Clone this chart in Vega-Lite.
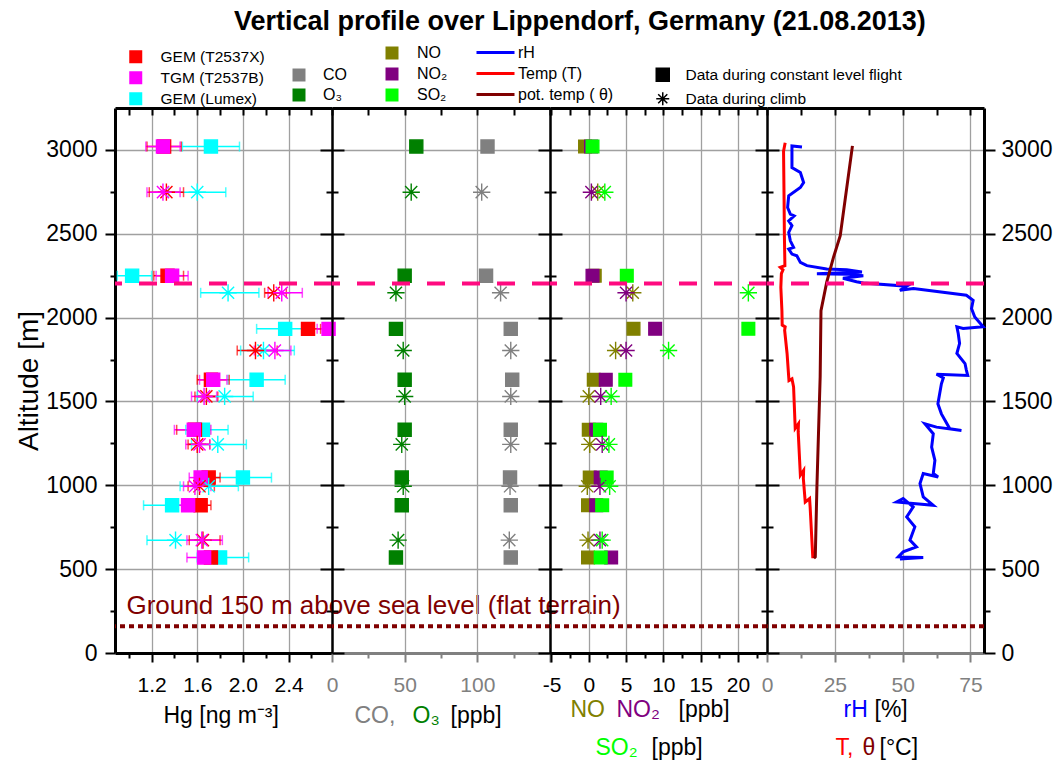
{
"$schema": "https://vega.github.io/schema/vega-lite/v6.json",
"padding": {"left": 15, "top": 8, "right": 5, "bottom": 5},
"title": {"text": "Vertical profile over Lippendorf, Germany (21.08.2013)", "fontSize": 27, "fontWeight": "bold", "font": "Liberation Sans", "color": "black", "anchor": "start", "frame": "group", "dx": 119, "offset": 8},
"spacing": 0,
"bounds": "flush",
"resolve": {"scale": {"x": "independent", "y": "independent", "color": "independent", "fill": "independent", "stroke": "independent", "shape": "independent", "size": "independent"}, "axis": {"x": "independent", "y": "independent"}, "legend": {"color": "independent", "fill": "independent", "stroke": "independent", "shape": "independent", "size": "independent"}},
"datasets": {
"hg": [
{"alt":3020,"phase":"Data during constant level flight","inst":"GEM (Lumex)","v":1.72,"lo":1.47,"hi":1.97},
{"alt":3020,"phase":"Data during constant level flight","inst":"GEM (T2537X)","v":1.31,"lo":1.16,"hi":1.46},
{"alt":3020,"phase":"Data during constant level flight","inst":"TGM (T2537B)","v":1.30,"lo":1.15,"hi":1.45},
{"alt":2748,"phase":"Data during climb","inst":"GEM (Lumex)","v":1.60,"lo":1.35,"hi":1.85},
{"alt":2748,"phase":"Data during climb","inst":"GEM (T2537X)","v":1.33,"lo":1.18,"hi":1.48},
{"alt":2748,"phase":"Data during climb","inst":"TGM (T2537B)","v":1.30,"lo":1.16,"hi":1.45},
{"alt":2250,"phase":"Data during constant level flight","inst":"GEM (Lumex)","v":1.03,"lo":0.90,"hi":1.20},
{"alt":2250,"phase":"Data during constant level flight","inst":"GEM (T2537X)","v":1.34,"lo":1.22,"hi":1.48},
{"alt":2250,"phase":"Data during constant level flight","inst":"TGM (T2537B)","v":1.38,"lo":1.24,"hi":1.52},
{"alt":2148,"phase":"Data during climb","inst":"GEM (Lumex)","v":1.87,"lo":1.63,"hi":2.14},
{"alt":2148,"phase":"Data during climb","inst":"GEM (T2537X)","v":2.27,"lo":2.19,"hi":2.38},
{"alt":2148,"phase":"Data during climb","inst":"TGM (T2537B)","v":2.34,"lo":2.22,"hi":2.52},
{"alt":1933,"phase":"Data during constant level flight","inst":"GEM (Lumex)","v":2.37,"lo":2.12,"hi":2.62},
{"alt":1933,"phase":"Data during constant level flight","inst":"GEM (T2537X)","v":2.57,"lo":2.52,"hi":2.68},
{"alt":1933,"phase":"Data during constant level flight","inst":"TGM (T2537B)","v":2.75,"lo":2.65,"hi":2.78},
{"alt":1804,"phase":"Data during climb","inst":"GEM (Lumex)","v":2.18,"lo":1.98,"hi":2.45},
{"alt":1804,"phase":"Data during climb","inst":"GEM (T2537X)","v":2.11,"lo":1.95,"hi":2.30},
{"alt":1804,"phase":"Data during climb","inst":"TGM (T2537B)","v":2.28,"lo":2.10,"hi":2.42},
{"alt":1629,"phase":"Data during constant level flight","inst":"GEM (Lumex)","v":2.12,"lo":1.87,"hi":2.37},
{"alt":1629,"phase":"Data during constant level flight","inst":"GEM (T2537X)","v":1.72,"lo":1.60,"hi":1.88},
{"alt":1629,"phase":"Data during constant level flight","inst":"TGM (T2537B)","v":1.74,"lo":1.62,"hi":1.86},
{"alt":1530,"phase":"Data during climb","inst":"GEM (Lumex)","v":1.84,"lo":1.60,"hi":2.09},
{"alt":1530,"phase":"Data during climb","inst":"GEM (T2537X)","v":1.68,"lo":1.58,"hi":1.78},
{"alt":1530,"phase":"Data during climb","inst":"TGM (T2537B)","v":1.66,"lo":1.55,"hi":1.77},
{"alt":1331,"phase":"Data during constant level flight","inst":"GEM (Lumex)","v":1.65,"lo":1.50,"hi":1.87},
{"alt":1331,"phase":"Data during constant level flight","inst":"GEM (T2537X)","v":1.58,"lo":1.42,"hi":1.71},
{"alt":1331,"phase":"Data during constant level flight","inst":"TGM (T2537B)","v":1.57,"lo":1.40,"hi":1.72},
{"alt":1244,"phase":"Data during climb","inst":"GEM (Lumex)","v":1.78,"lo":1.55,"hi":2.03},
{"alt":1244,"phase":"Data during climb","inst":"GEM (T2537X)","v":1.60,"lo":1.52,"hi":1.71},
{"alt":1244,"phase":"Data during climb","inst":"TGM (T2537B)","v":1.62,"lo":1.50,"hi":1.71},
{"alt":1046,"phase":"Data during constant level flight","inst":"GEM (Lumex)","v":2.00,"lo":1.75,"hi":2.25},
{"alt":1046,"phase":"Data during constant level flight","inst":"GEM (T2537X)","v":1.70,"lo":1.58,"hi":1.80},
{"alt":1046,"phase":"Data during constant level flight","inst":"TGM (T2537B)","v":1.63,"lo":1.53,"hi":1.75},
{"alt":994,"phase":"Data during climb","inst":"GEM (Lumex)","v":1.70,"lo":1.45,"hi":1.96},
{"alt":994,"phase":"Data during climb","inst":"GEM (T2537X)","v":1.62,"lo":1.52,"hi":1.75},
{"alt":994,"phase":"Data during climb","inst":"TGM (T2537B)","v":1.58,"lo":1.48,"hi":1.72},
{"alt":881,"phase":"Data during constant level flight","inst":"GEM (Lumex)","v":1.38,"lo":1.13,"hi":1.63},
{"alt":881,"phase":"Data during constant level flight","inst":"GEM (T2537X)","v":1.63,"lo":1.55,"hi":1.72},
{"alt":881,"phase":"Data during constant level flight","inst":"TGM (T2537B)","v":1.52,"lo":1.42,"hi":1.62},
{"alt":673,"phase":"Data during climb","inst":"GEM (Lumex)","v":1.41,"lo":1.16,"hi":1.66},
{"alt":673,"phase":"Data during climb","inst":"GEM (T2537X)","v":1.65,"lo":1.53,"hi":1.80},
{"alt":673,"phase":"Data during climb","inst":"TGM (T2537B)","v":1.64,"lo":1.51,"hi":1.82},
{"alt":570,"phase":"Data during constant level flight","inst":"GEM (Lumex)","v":1.80,"lo":1.60,"hi":2.05},
{"alt":570,"phase":"Data during constant level flight","inst":"GEM (T2537X)","v":1.72,"lo":1.62,"hi":1.82},
{"alt":570,"phase":"Data during constant level flight","inst":"TGM (T2537B)","v":1.66,"lo":1.51,"hi":1.80}
],
"gas": [
{"alt":3020,"phase":"Data during constant level flight","gas":"O₃","v":58},
{"alt":3020,"phase":"Data during constant level flight","gas":"CO","v":107},
{"alt":2748,"phase":"Data during climb","gas":"O₃","v":54.5},
{"alt":2748,"phase":"Data during climb","gas":"CO","v":103},
{"alt":2250,"phase":"Data during constant level flight","gas":"O₃","v":50},
{"alt":2250,"phase":"Data during constant level flight","gas":"CO","v":106},
{"alt":2148,"phase":"Data during climb","gas":"O₃","v":44},
{"alt":2148,"phase":"Data during climb","gas":"CO","v":116},
{"alt":1933,"phase":"Data during constant level flight","gas":"O₃","v":44},
{"alt":1933,"phase":"Data during constant level flight","gas":"CO","v":123},
{"alt":1804,"phase":"Data during climb","gas":"O₃","v":49},
{"alt":1804,"phase":"Data during climb","gas":"CO","v":123},
{"alt":1629,"phase":"Data during constant level flight","gas":"O₃","v":50},
{"alt":1629,"phase":"Data during constant level flight","gas":"CO","v":124},
{"alt":1530,"phase":"Data during climb","gas":"O₃","v":50},
{"alt":1530,"phase":"Data during climb","gas":"CO","v":123},
{"alt":1331,"phase":"Data during constant level flight","gas":"O₃","v":50},
{"alt":1331,"phase":"Data during constant level flight","gas":"CO","v":123},
{"alt":1244,"phase":"Data during climb","gas":"O₃","v":48},
{"alt":1244,"phase":"Data during climb","gas":"CO","v":123},
{"alt":1046,"phase":"Data during constant level flight","gas":"O₃","v":48},
{"alt":1046,"phase":"Data during constant level flight","gas":"CO","v":122.5},
{"alt":994,"phase":"Data during climb","gas":"O₃","v":49},
{"alt":994,"phase":"Data during climb","gas":"CO","v":122.5},
{"alt":881,"phase":"Data during constant level flight","gas":"O₃","v":48},
{"alt":881,"phase":"Data during constant level flight","gas":"CO","v":123},
{"alt":673,"phase":"Data during climb","gas":"O₃","v":45.5},
{"alt":673,"phase":"Data during climb","gas":"CO","v":122},
{"alt":570,"phase":"Data during constant level flight","gas":"O₃","v":44},
{"alt":570,"phase":"Data during constant level flight","gas":"CO","v":123}
],
"nox": [
{"alt":3020,"phase":"Data during constant level flight","gas":"NO","v":-0.5},
{"alt":3020,"phase":"Data during constant level flight","gas":"NO₂","v":0.3},
{"alt":3020,"phase":"Data during constant level flight","gas":"SO₂","v":0.5},
{"alt":2748,"phase":"Data during climb","gas":"NO","v":1.2},
{"alt":2748,"phase":"Data during climb","gas":"NO₂","v":0.35},
{"alt":2748,"phase":"Data during climb","gas":"SO₂","v":2.15},
{"alt":2250,"phase":"Data during constant level flight","gas":"NO","v":0.8},
{"alt":2250,"phase":"Data during constant level flight","gas":"NO₂","v":0.5},
{"alt":2250,"phase":"Data during constant level flight","gas":"SO₂","v":5.1},
{"alt":2148,"phase":"Data during climb","gas":"NO","v":5.9},
{"alt":2148,"phase":"Data during climb","gas":"NO₂","v":5.0},
{"alt":2148,"phase":"Data during climb","gas":"SO₂","v":21.4},
{"alt":1933,"phase":"Data during constant level flight","gas":"NO","v":6.0},
{"alt":1933,"phase":"Data during constant level flight","gas":"NO₂","v":8.9},
{"alt":1933,"phase":"Data during constant level flight","gas":"SO₂","v":21.4},
{"alt":1804,"phase":"Data during climb","gas":"NO","v":3.6},
{"alt":1804,"phase":"Data during climb","gas":"NO₂","v":5.0},
{"alt":1804,"phase":"Data during climb","gas":"SO₂","v":10.7},
{"alt":1629,"phase":"Data during constant level flight","gas":"NO","v":0.67},
{"alt":1629,"phase":"Data during constant level flight","gas":"NO₂","v":2.28},
{"alt":1629,"phase":"Data during constant level flight","gas":"SO₂","v":4.9},
{"alt":1530,"phase":"Data during climb","gas":"NO","v":0.0},
{"alt":1530,"phase":"Data during climb","gas":"NO₂","v":1.6},
{"alt":1530,"phase":"Data during climb","gas":"SO₂","v":3.0},
{"alt":1331,"phase":"Data during constant level flight","gas":"NO","v":0.0},
{"alt":1331,"phase":"Data during constant level flight","gas":"NO₂","v":1.0},
{"alt":1331,"phase":"Data during constant level flight","gas":"SO₂","v":1.5},
{"alt":1244,"phase":"Data during climb","gas":"NO","v":0.13},
{"alt":1244,"phase":"Data during climb","gas":"NO₂","v":1.8},
{"alt":1244,"phase":"Data during climb","gas":"SO₂","v":2.7},
{"alt":1046,"phase":"Data during constant level flight","gas":"NO","v":0.13},
{"alt":1046,"phase":"Data during constant level flight","gas":"NO₂","v":1.6},
{"alt":1046,"phase":"Data during constant level flight","gas":"SO₂","v":2.4},
{"alt":994,"phase":"Data during climb","gas":"NO","v":-0.2},
{"alt":994,"phase":"Data during climb","gas":"NO₂","v":1.5},
{"alt":994,"phase":"Data during climb","gas":"SO₂","v":2.8},
{"alt":881,"phase":"Data during constant level flight","gas":"NO","v":-0.1},
{"alt":881,"phase":"Data during constant level flight","gas":"NO₂","v":1.0},
{"alt":881,"phase":"Data during constant level flight","gas":"SO₂","v":1.8},
{"alt":673,"phase":"Data during climb","gas":"NO","v":-0.1},
{"alt":673,"phase":"Data during climb","gas":"NO₂","v":1.5},
{"alt":673,"phase":"Data during climb","gas":"SO₂","v":1.8},
{"alt":570,"phase":"Data during constant level flight","gas":"NO","v":-0.1},
{"alt":570,"phase":"Data during constant level flight","gas":"NO₂","v":3.0},
{"alt":570,"phase":"Data during constant level flight","gas":"SO₂","v":1.6}
],
"met": [
{"var":"rH","i":0,"alt":3018,"v":12.9},{"var":"rH","i":1,"alt":3024,"v":9.2},{"var":"rH","i":2,"alt":2895,"v":9.2},{"var":"rH","i":3,"alt":2865,"v":12.3},{"var":"rH","i":4,"alt":2805,"v":13.5},{"var":"rH","i":5,"alt":2776,"v":12.3},{"var":"rH","i":6,"alt":2726,"v":8.0},{"var":"rH","i":7,"alt":2657,"v":7.6},{"var":"rH","i":8,"alt":2617,"v":8.6},{"var":"rH","i":9,"alt":2607,"v":10.0},{"var":"rH","i":10,"alt":2577,"v":8.0},{"var":"rH","i":11,"alt":2548,"v":9.2},{"var":"rH","i":12,"alt":2508,"v":8.0},{"var":"rH","i":13,"alt":2458,"v":8.6},{"var":"rH","i":14,"alt":2419,"v":9.8},{"var":"rH","i":15,"alt":2409,"v":8.0},{"var":"rH","i":16,"alt":2379,"v":9.2},{"var":"rH","i":17,"alt":2369,"v":11.0},{"var":"rH","i":18,"alt":2329,"v":12.3},{"var":"rH","i":19,"alt":2310,"v":14.7},{"var":"rH","i":20,"alt":2290,"v":22.0},{"var":"rH","i":21,"alt":2285,"v":29.4},{"var":"rH","i":22,"alt":2272,"v":35.0},{"var":"rH","i":23,"alt":2262,"v":18.4},{"var":"rH","i":24,"alt":2258,"v":30.0},{"var":"rH","i":25,"alt":2250,"v":35.5},{"var":"rH","i":26,"alt":2235,"v":28.0},{"var":"rH","i":27,"alt":2214,"v":33.0},{"var":"rH","i":28,"alt":2206,"v":35.5},{"var":"rH","i":29,"alt":2187,"v":51.5},{"var":"rH","i":30,"alt":2163,"v":49.0},{"var":"rH","i":31,"alt":2173,"v":54.0},{"var":"rH","i":32,"alt":2133,"v":73.5},{"var":"rH","i":33,"alt":2103,"v":76.0},{"var":"rH","i":34,"alt":2054,"v":75.4},{"var":"rH","i":35,"alt":2004,"v":76.6},{"var":"rH","i":36,"alt":1945,"v":79.7},{"var":"rH","i":37,"alt":1935,"v":72.3},{"var":"rH","i":38,"alt":1945,"v":70.0},{"var":"rH","i":39,"alt":1905,"v":70.5},{"var":"rH","i":40,"alt":1846,"v":71.0},{"var":"rH","i":41,"alt":1786,"v":70.0},{"var":"rH","i":42,"alt":1726,"v":73.0},{"var":"rH","i":43,"alt":1687,"v":73.5},{"var":"rH","i":44,"alt":1655,"v":74.0},{"var":"rH","i":45,"alt":1662,"v":62.5},{"var":"rH","i":46,"alt":1640,"v":65.0},{"var":"rH","i":47,"alt":1605,"v":64.3},{"var":"rH","i":48,"alt":1486,"v":63.0},{"var":"rH","i":49,"alt":1426,"v":64.3},{"var":"rH","i":50,"alt":1337,"v":67.4},{"var":"rH","i":51,"alt":1327,"v":71.7},{"var":"rH","i":52,"alt":1347,"v":62.5},{"var":"rH","i":53,"alt":1367,"v":58.2},{"var":"rH","i":54,"alt":1307,"v":61.3},{"var":"rH","i":55,"alt":1228,"v":60.7},{"var":"rH","i":56,"alt":1149,"v":61.9},{"var":"rH","i":57,"alt":1070,"v":61.3},{"var":"rH","i":58,"alt":1050,"v":63.1},{"var":"rH","i":59,"alt":1070,"v":57.6},{"var":"rH","i":60,"alt":1010,"v":56.4},{"var":"rH","i":61,"alt":931,"v":57.6},{"var":"rH","i":62,"alt":881,"v":61.3},{"var":"rH","i":63,"alt":891,"v":53.9},{"var":"rH","i":64,"alt":901,"v":47.8},{"var":"rH","i":65,"alt":921,"v":50.2},{"var":"rH","i":66,"alt":871,"v":53.9},{"var":"rH","i":67,"alt":812,"v":51.5},{"var":"rH","i":68,"alt":752,"v":54.5},{"var":"rH","i":69,"alt":673,"v":52.7},{"var":"rH","i":70,"alt":633,"v":55.1},{"var":"rH","i":71,"alt":603,"v":50.2},{"var":"rH","i":72,"alt":573,"v":48.4},{"var":"rH","i":73,"alt":569,"v":57.6},{"var":"rH","i":74,"alt":560,"v":49.0},
{"var":"Temp (T)","i":0,"alt":3043,"v":6.7},{"var":"Temp (T)","i":1,"alt":2993,"v":6.1},{"var":"Temp (T)","i":2,"alt":2700,"v":6.3},{"var":"Temp (T)","i":3,"alt":2500,"v":6.4},{"var":"Temp (T)","i":4,"alt":2310,"v":6.6},{"var":"Temp (T)","i":5,"alt":2300,"v":4.9},{"var":"Temp (T)","i":6,"alt":2285,"v":5.9},{"var":"Temp (T)","i":7,"alt":2262,"v":5.3},{"var":"Temp (T)","i":8,"alt":2180,"v":5.1},{"var":"Temp (T)","i":9,"alt":2041,"v":5.5},{"var":"Temp (T)","i":10,"alt":1955,"v":5.6},{"var":"Temp (T)","i":11,"alt":1945,"v":6.7},{"var":"Temp (T)","i":12,"alt":1925,"v":6.5},{"var":"Temp (T)","i":13,"alt":1786,"v":7.4},{"var":"Temp (T)","i":14,"alt":1647,"v":8.0},{"var":"Temp (T)","i":15,"alt":1625,"v":8.1},{"var":"Temp (T)","i":16,"alt":1635,"v":9.2},{"var":"Temp (T)","i":17,"alt":1586,"v":9.8},{"var":"Temp (T)","i":18,"alt":1340,"v":10.4},{"var":"Temp (T)","i":19,"alt":1367,"v":11.6},{"var":"Temp (T)","i":20,"alt":1320,"v":11.5},{"var":"Temp (T)","i":21,"alt":1060,"v":12.3},{"var":"Temp (T)","i":22,"alt":1089,"v":13.5},{"var":"Temp (T)","i":23,"alt":1040,"v":13.4},{"var":"Temp (T)","i":24,"alt":900,"v":14.1},{"var":"Temp (T)","i":25,"alt":921,"v":15.7},{"var":"Temp (T)","i":26,"alt":871,"v":15.9},{"var":"Temp (T)","i":27,"alt":565,"v":16.9},
{"var":"pot. temp ( θ)","i":0,"alt":3024,"v":31.5},{"var":"pot. temp ( θ)","i":1,"alt":2488,"v":27.0},{"var":"pot. temp ( θ)","i":2,"alt":2359,"v":24.5},{"var":"pot. temp ( θ)","i":3,"alt":2210,"v":22.0},{"var":"pot. temp ( θ)","i":4,"alt":2041,"v":19.9},{"var":"pot. temp ( θ)","i":5,"alt":1647,"v":19.6},{"var":"pot. temp ( θ)","i":6,"alt":990,"v":18.4},{"var":"pot. temp ( θ)","i":7,"alt":573,"v":17.8},{"var":"pot. temp ( θ)","i":8,"alt":565,"v":17.3}
],
"refs": [{"alt": 2204, "kind": "inversion"}, {"alt": 160, "kind": "ground"}],
"ann": [{"alt": 280, "hg": 0.98, "label": "Ground  150 m above sea level (flat terrain)"}]
},
"hconcat": [
{
"width": 217, "height": 545,
"resolve": {"axis": {"x": "independent", "y": "independent"}},
"layer": [
{"data": {"name": "hg"}, "mark": {"type": "rule", "strokeWidth": 1.5},
 "encoding": {
  "x": {"field": "lo", "type": "quantitative", "scale": {"domain": [0.88, 2.78], "nice": false, "zero": false},
   "axis": {"orient": "bottom", "values": [1.0,1.2,1.4,1.6,1.8,2.0,2.2,2.4,2.6], "labelExpr": "round(datum.value*10) % 4 == 0 ? format(datum.value, '.1f') : ''", "tickSize": {"condition": {"test": "round(datum.value*10) % 4 == 0", "value": 9}, "value": 5}, "tickWidth": 2, "domainWidth": 3, "grid": true, "gridOpacity": {"condition": {"test": "round(datum.value*10) % 4 == 0", "value": 1}, "value": 0}, "labelFontSize": 21, "labelPadding": 12, "labelFlush": false, "labelOverlap": false, "title": "Hg [ng m⁻³]", "titleFontSize": 23, "titleFontWeight": "normal", "titleX": 48, "titleY": 69, "titleAlign": "left", "titleBaseline": "alphabetic", "titleAnchor": "start"}},
  "x2": {"field": "hi"},
  "y": {"field": "alt", "type": "quantitative", "scale": {"domain": [0, 3250], "nice": false, "zero": false},
   "axis": {"orient": "left", "values": [0,250,500,750,1000,1250,1500,1750,2000,2250,2500,2750,3000], "format": "d", "labelExpr": "datum.value % 500 == 0 ? datum.label : ''", "tickSize": {"condition": {"test": "datum.value % 500 == 0", "value": 10}, "value": 5}, "tickWidth": 2, "domainWidth": 3, "grid": true, "gridOpacity": {"condition": {"test": "datum.value % 500 == 0 && datum.value > 0", "value": 1}, "value": 0}, "labelFontSize": 23, "labelPadding": 8, "title": "Altitude [m]", "titleFontSize": 28, "titleFontWeight": "normal", "titlePadding": 2}},
  "color": {"field": "inst", "type": "nominal", "scale": {"domain": ["GEM (Lumex)", "GEM (T2537X)", "TGM (T2537B)"], "range": ["#00ffff", "#ff0000", "#ff00ff"]}, "legend": null}
 }},
{"data": {"name": "hg"}, "mark": {"type": "tick", "orient": "vertical", "size": 10, "thickness": 1.5},
 "encoding": {
  "x": {"field": "lo", "type": "quantitative", "scale": {"domain": [0.88, 2.78], "nice": false, "zero": false},
   "axis": {"orient": "top", "values": [1.0,1.2,1.4,1.6,1.8,2.0,2.2,2.4,2.6], "labels": false, "tickSize": -7, "tickWidth": 2, "domainWidth": 3, "grid": false, "title": null}},
  "y": {"field": "alt", "type": "quantitative", "scale": {"domain": [0, 3250], "nice": false, "zero": false},
   "axis": {"orient": "right", "values": [0,250,500,750,1000,1250,1500,1750,2000,2250,2500,2750,3000], "labels": false, "tickSize": {"condition": {"test": "datum.value % 500 == 0", "value": -12}, "value": -6}, "tickWidth": 2, "domainWidth": 2, "grid": false, "title": null}},
  "color": {"field": "inst", "type": "nominal", "scale": {"domain": ["GEM (Lumex)", "GEM (T2537X)", "TGM (T2537B)"], "range": ["#00ffff", "#ff0000", "#ff00ff"]}, "legend": null}
 }},
{"data": {"name": "hg"}, "mark": {"type": "tick", "orient": "vertical", "size": 10, "thickness": 1.5},
 "encoding": {
  "x": {"field": "hi", "type": "quantitative", "scale": {"domain": [0.88, 2.78], "nice": false, "zero": false}, "axis": null},
  "y": {"field": "alt", "type": "quantitative", "scale": {"domain": [0, 3250], "nice": false, "zero": false}, "axis": null},
  "color": {"field": "inst", "type": "nominal", "scale": {"domain": ["GEM (Lumex)", "GEM (T2537X)", "TGM (T2537B)"], "range": ["#00ffff", "#ff0000", "#ff00ff"]}, "legend": null}
 }},
{"data": {"name": "hg"}, "mark": {"type": "point", "filled": true, "strokeWidth": 1.4, "opacity": 1},
 "encoding": {
  "x": {"field": "v", "type": "quantitative", "scale": {"domain": [0.88, 2.78], "nice": false, "zero": false}, "axis": null},
  "y": {"field": "alt", "type": "quantitative", "scale": {"domain": [0, 3250], "nice": false, "zero": false}, "axis": null},
  "fill": {"field": "inst", "type": "nominal", "scale": {"domain": ["GEM (T2537X)", "TGM (T2537B)", "GEM (Lumex)"], "range": ["#ff0000", "#ff00ff", "#00ffff"]},
   "legend": {"title": null, "orient": "none", "legendX": 13, "legendY": -59, "symbolType": "square", "symbolSize": 169, "symbolStrokeWidth": 0, "labelFontSize": 15.5, "labelOffset": 17, "rowPadding": 4, "labelLimit": 400}},
  "stroke": {"field": "inst", "type": "nominal", "scale": {"domain": ["GEM (T2537X)", "TGM (T2537B)", "GEM (Lumex)"], "range": ["#ff0000", "#ff00ff", "#00ffff"]}, "legend": null},
  "size": {"field": "phase", "type": "nominal", "scale": {"domain": ["Data during climb", "Data during constant level flight"], "range": [300, 170]}, "legend": null},
  "shape": {"field": "phase", "type": "nominal", "scale": {"domain": ["Data during constant level flight", "Data during climb"], "range": ["square", "M-1,0L1,0M0,-1L0,1M-0.7,-0.7L0.7,0.7M-0.7,0.7L0.7,-0.7"]},
   "legend": {"title": null, "orient": "none", "legendX": 540, "legendY": -41, "symbolSize": 169, "labelFontSize": 15.5, "labelOffset": 15, "rowPadding": 4, "labelLimit": 400, "symbolStrokeWidth": 1.5, "symbolFillColor": "black", "symbolStrokeColor": "black", "encode": {"symbols": {"update": {"fill": {"value": "black"}, "stroke": {"value": "black"}}}}}}
 }},
{"data": {"name": "refs"}, "transform": [{"filter": "datum.kind == 'inversion'"}], "mark": {"type": "rule", "color": "#ff0a80", "strokeWidth": 4, "strokeDash": [18, 17]},
 "encoding": {"y": {"field": "alt", "type": "quantitative", "scale": {"domain": [0, 3250], "nice": false, "zero": false}, "axis": null}}},
{"data": {"name": "refs"}, "transform": [{"filter": "datum.kind == 'ground'"}], "mark": {"type": "rule", "color": "#800000", "strokeWidth": 4, "strokeDash": [5, 4]},
 "encoding": {"y": {"field": "alt", "type": "quantitative", "scale": {"domain": [0, 3250], "nice": false, "zero": false}, "axis": null}}},
{"data": {"name": "ann"}, "mark": {"type": "text", "align": "left", "baseline": "middle", "fontSize": 26, "color": "#800000", "font": "Liberation Sans"},
 "encoding": {
  "x": {"field": "hg", "type": "quantitative", "scale": {"domain": [0.88, 2.78], "nice": false, "zero": false}, "axis": null},
  "y": {"field": "alt", "type": "quantitative", "scale": {"domain": [0, 3250], "nice": false, "zero": false}, "axis": null},
  "text": {"field": "label"}
 }}
]
},
{
"width": 218, "height": 545,
"resolve": {"axis": {"x": "independent", "y": "independent"}},
"layer": [
{"data": {"name": "gas"}, "mark": {"type": "point", "filled": true, "strokeWidth": 1.4, "opacity": 1},
 "encoding": {
  "x": {"field": "v", "type": "quantitative", "scale": {"domain": [0, 150], "nice": false, "zero": false},
   "axis": {"orient": "bottom", "values": [0,25,50,75,100,125,150], "labelExpr": "datum.value % 50 == 0 && datum.value < 150 ? datum.label : ''", "tickSize": {"condition": {"test": "datum.value % 50 == 0", "value": 9}, "value": 5}, "tickWidth": 2, "domainWidth": 3, "domainColor": "#808080", "tickColor": "#808080", "labelColor": "#808080", "grid": true, "gridOpacity": {"condition": {"test": "datum.value % 50 == 0 && datum.value > 0 && datum.value < 150", "value": 1}, "value": 0}, "labelFontSize": 21, "labelPadding": 12, "labelFlush": false, "labelOverlap": false, "title": "CO,", "titleColor": "#808080", "titleFontSize": 23, "titleFontWeight": "normal", "titleX": 22, "titleY": 69, "titleAlign": "left", "titleBaseline": "alphabetic", "titleAnchor": "start"}},
  "y": {"field": "alt", "type": "quantitative", "scale": {"domain": [0, 3250], "nice": false, "zero": false},
   "axis": {"orient": "left", "values": [0,250,500,750,1000,1250,1500,1750,2000,2250,2500,2750,3000], "labels": false, "tickSize": {"condition": {"test": "datum.value % 500 == 0", "value": -12}, "value": -6}, "tickWidth": 2, "domainWidth": 2, "grid": true, "gridOpacity": {"condition": {"test": "datum.value % 500 == 0 && datum.value > 0", "value": 1}, "value": 0}, "title": null}},
  "fill": {"field": "gas", "type": "nominal", "scale": {"domain": ["CO", "O₃"], "range": ["#808080", "#008000"]},
   "legend": {"title": null, "orient": "none", "legendX": -41, "legendY": -41, "symbolType": "square", "symbolSize": 169, "symbolStrokeWidth": 0, "labelFontSize": 16, "labelOffset": 16, "rowPadding": 4, "labelLimit": 400}},
  "stroke": {"field": "gas", "type": "nominal", "scale": {"domain": ["CO", "O₃"], "range": ["#808080", "#008000"]}, "legend": null},
  "size": {"field": "phase", "type": "nominal", "scale": {"domain": ["Data during climb", "Data during constant level flight"], "range": [300, 170]}, "legend": null},
  "shape": {"field": "phase", "type": "nominal", "scale": {"domain": ["Data during constant level flight", "Data during climb"], "range": ["square", "M-1,0L1,0M0,-1L0,1M-0.7,-0.7L0.7,0.7M-0.7,0.7L0.7,-0.7"]}, "legend": null}
 }},
{"data": {"name": "gas"}, "mark": {"type": "point", "opacity": 0},
 "encoding": {
  "x": {"field": "v", "type": "quantitative", "scale": {"domain": [0, 150], "nice": false, "zero": false},
   "axis": {"orient": "top", "values": [0,25,50,75,100,125,150], "labels": false, "tickSize": -7, "tickWidth": 2, "domainWidth": 3, "grid": false, "title": null}},
  "y": {"field": "alt", "type": "quantitative", "scale": {"domain": [0, 3250], "nice": false, "zero": false},
   "axis": {"orient": "right", "values": [0,250,500,750,1000,1250,1500,1750,2000,2250,2500,2750,3000], "labels": false, "tickSize": {"condition": {"test": "datum.value % 500 == 0", "value": -12}, "value": -6}, "tickWidth": 2, "domainWidth": 2, "grid": false, "title": null}}
 }},
{"data": {"name": "gas"}, "mark": {"type": "point", "opacity": 0},
 "encoding": {
  "x": {"field": "v", "type": "quantitative", "scale": {"domain": [0, 150], "nice": false, "zero": false},
   "axis": {"orient": "bottom", "domain": false, "ticks": false, "labels": false, "grid": false, "title": "O₃", "titleColor": "#008000", "titleFontSize": 23, "titleFontWeight": "normal", "titleX": 80, "titleY": 69, "titleAlign": "left", "titleBaseline": "alphabetic", "titleAnchor": "start"}},
  "y": {"field": "alt", "type": "quantitative", "scale": {"domain": [0, 3250], "nice": false, "zero": false}, "axis": null}
 }},
{"data": {"name": "gas"}, "mark": {"type": "point", "opacity": 0},
 "encoding": {
  "x": {"field": "v", "type": "quantitative", "scale": {"domain": [0, 150], "nice": false, "zero": false},
   "axis": {"orient": "bottom", "domain": false, "ticks": false, "labels": false, "grid": false, "title": "[ppb]", "titleColor": "black", "titleFontSize": 23, "titleFontWeight": "normal", "titleX": 118, "titleY": 69, "titleAlign": "left", "titleBaseline": "alphabetic", "titleAnchor": "start"}},
  "y": {"field": "alt", "type": "quantitative", "scale": {"domain": [0, 3250], "nice": false, "zero": false}, "axis": null}
 }},
{"data": {"name": "refs"}, "transform": [{"filter": "datum.kind == 'inversion'"}], "mark": {"type": "rule", "color": "#ff0a80", "strokeWidth": 4, "strokeDash": [18, 17]},
 "encoding": {"y": {"field": "alt", "type": "quantitative", "scale": {"domain": [0, 3250], "nice": false, "zero": false}, "axis": null}}},
{"data": {"name": "refs"}, "transform": [{"filter": "datum.kind == 'ground'"}], "mark": {"type": "rule", "color": "#800000", "strokeWidth": 4, "strokeDash": [5, 4]},
 "encoding": {"y": {"field": "alt", "type": "quantitative", "scale": {"domain": [0, 3250], "nice": false, "zero": false}, "axis": null}}}
]
},
{
"width": 217, "height": 545,
"resolve": {"axis": {"x": "independent", "y": "independent"}},
"layer": [
{"data": {"name": "nox"}, "mark": {"type": "point", "filled": true, "strokeWidth": 1.4, "opacity": 1},
 "encoding": {
  "x": {"field": "v", "type": "quantitative", "scale": {"domain": [-5.2, 23.9], "nice": false, "zero": false},
   "axis": {"orient": "bottom", "values": [-5,-2.5,0,2.5,5,7.5,10,12.5,15,17.5,20,22.5], "labelExpr": "datum.value % 5 == 0 ? replace(datum.label, '−', '-') : ''", "tickSize": {"condition": {"test": "datum.value % 5 == 0", "value": 9}, "value": 5}, "tickWidth": 2, "domainWidth": 3, "grid": true, "gridOpacity": {"condition": {"test": "datum.value % 5 == 0 && datum.value > -5", "value": 1}, "value": 0}, "labelFontSize": 21, "labelPadding": 12, "labelFlush": false, "labelOverlap": false, "title": "NO", "titleColor": "#808000", "titleFontSize": 23, "titleFontWeight": "normal", "titleX": 20, "titleY": 63, "titleAlign": "left", "titleBaseline": "alphabetic", "titleAnchor": "start"}},
  "y": {"field": "alt", "type": "quantitative", "scale": {"domain": [0, 3250], "nice": false, "zero": false},
   "axis": {"orient": "left", "values": [0,250,500,750,1000,1250,1500,1750,2000,2250,2500,2750,3000], "labels": false, "tickSize": {"condition": {"test": "datum.value % 500 == 0", "value": -12}, "value": -6}, "tickWidth": 2, "domainWidth": 2, "grid": true, "gridOpacity": {"condition": {"test": "datum.value % 500 == 0 && datum.value > 0", "value": 1}, "value": 0}, "title": null}},
  "fill": {"field": "gas", "type": "nominal", "scale": {"domain": ["NO", "NO₂", "SO₂"], "range": ["#808000", "#800080", "#00ff00"]},
   "legend": {"title": null, "orient": "none", "legendX": -166, "legendY": -63, "symbolType": "square", "symbolSize": 169, "symbolStrokeWidth": 0, "labelFontSize": 16, "labelOffset": 17, "rowPadding": 5, "labelLimit": 400}},
  "stroke": {"field": "gas", "type": "nominal", "scale": {"domain": ["NO", "NO₂", "SO₂"], "range": ["#808000", "#800080", "#00ff00"]}, "legend": null},
  "size": {"field": "phase", "type": "nominal", "scale": {"domain": ["Data during climb", "Data during constant level flight"], "range": [300, 160]}, "legend": null},
  "shape": {"field": "phase", "type": "nominal", "scale": {"domain": ["Data during constant level flight", "Data during climb"], "range": ["square", "M-1,0L1,0M0,-1L0,1M-0.7,-0.7L0.7,0.7M-0.7,0.7L0.7,-0.7"]}, "legend": null}
 }},
{"data": {"name": "nox"}, "mark": {"type": "point", "opacity": 0},
 "encoding": {
  "x": {"field": "v", "type": "quantitative", "scale": {"domain": [-5.2, 23.9], "nice": false, "zero": false},
   "axis": {"orient": "top", "values": [-5,-2.5,0,2.5,5,7.5,10,12.5,15,17.5,20,22.5], "labels": false, "tickSize": -7, "tickWidth": 2, "domainWidth": 3, "grid": false, "title": null}},
  "y": {"field": "alt", "type": "quantitative", "scale": {"domain": [0, 3250], "nice": false, "zero": false},
   "axis": {"orient": "right", "values": [0,250,500,750,1000,1250,1500,1750,2000,2250,2500,2750,3000], "labels": false, "tickSize": {"condition": {"test": "datum.value % 500 == 0", "value": -12}, "value": -6}, "tickWidth": 2, "domainWidth": 2, "grid": false, "title": null}}
 }},
{"data": {"name": "nox"}, "mark": {"type": "point", "opacity": 0},
 "encoding": {
  "x": {"field": "v", "type": "quantitative", "scale": {"domain": [-5.2, 23.9], "nice": false, "zero": false},
   "axis": {"orient": "bottom", "domain": false, "ticks": false, "labels": false, "grid": false, "title": "NO₂", "titleColor": "#800080", "titleFontSize": 23, "titleFontWeight": "normal", "titleX": 66, "titleY": 63, "titleAlign": "left", "titleBaseline": "alphabetic", "titleAnchor": "start"}},
  "y": {"field": "alt", "type": "quantitative", "scale": {"domain": [0, 3250], "nice": false, "zero": false}, "axis": null}
 }},
{"data": {"name": "nox"}, "mark": {"type": "point", "opacity": 0},
 "encoding": {
  "x": {"field": "v", "type": "quantitative", "scale": {"domain": [-5.2, 23.9], "nice": false, "zero": false},
   "axis": {"orient": "bottom", "domain": false, "ticks": false, "labels": false, "grid": false, "title": "[ppb]", "titleColor": "black", "titleFontSize": 23, "titleFontWeight": "normal", "titleX": 128, "titleY": 63, "titleAlign": "left", "titleBaseline": "alphabetic", "titleAnchor": "start"}},
  "y": {"field": "alt", "type": "quantitative", "scale": {"domain": [0, 3250], "nice": false, "zero": false}, "axis": null}
 }},
{"data": {"name": "nox"}, "mark": {"type": "point", "opacity": 0},
 "encoding": {
  "x": {"field": "v", "type": "quantitative", "scale": {"domain": [-5.2, 23.9], "nice": false, "zero": false},
   "axis": {"orient": "bottom", "domain": false, "ticks": false, "labels": false, "grid": false, "title": "SO₂", "titleColor": "#00ff00", "titleFontSize": 23, "titleFontWeight": "normal", "titleX": 45, "titleY": 101, "titleAlign": "left", "titleBaseline": "alphabetic", "titleAnchor": "start"}},
  "y": {"field": "alt", "type": "quantitative", "scale": {"domain": [0, 3250], "nice": false, "zero": false}, "axis": null}
 }},
{"data": {"name": "nox"}, "mark": {"type": "point", "opacity": 0},
 "encoding": {
  "x": {"field": "v", "type": "quantitative", "scale": {"domain": [-5.2, 23.9], "nice": false, "zero": false},
   "axis": {"orient": "bottom", "domain": false, "ticks": false, "labels": false, "grid": false, "title": "[ppb]", "titleColor": "black", "titleFontSize": 23, "titleFontWeight": "normal", "titleX": 101, "titleY": 101, "titleAlign": "left", "titleBaseline": "alphabetic", "titleAnchor": "start"}},
  "y": {"field": "alt", "type": "quantitative", "scale": {"domain": [0, 3250], "nice": false, "zero": false}, "axis": null}
 }},
{"data": {"name": "refs"}, "transform": [{"filter": "datum.kind == 'inversion'"}], "mark": {"type": "rule", "color": "#ff0a80", "strokeWidth": 4, "strokeDash": [18, 17]},
 "encoding": {"y": {"field": "alt", "type": "quantitative", "scale": {"domain": [0, 3250], "nice": false, "zero": false}, "axis": null}}},
{"data": {"name": "refs"}, "transform": [{"filter": "datum.kind == 'ground'"}], "mark": {"type": "rule", "color": "#800000", "strokeWidth": 4, "strokeDash": [5, 4]},
 "encoding": {"y": {"field": "alt", "type": "quantitative", "scale": {"domain": [0, 3250], "nice": false, "zero": false}, "axis": null}}}
]
},
{
"width": 217, "height": 545,
"resolve": {"axis": {"x": "independent", "y": "independent"}},
"layer": [
{"data": {"name": "met"}, "mark": {"type": "line", "strokeWidth": 3},
 "encoding": {
  "x": {"field": "v", "type": "quantitative", "scale": {"domain": [0, 80], "nice": false, "zero": false},
   "axis": {"orient": "bottom", "values": [0,12.5,25,37.5,50,62.5,75], "labelExpr": "datum.value % 25 == 0 ? datum.label : ''", "tickSize": {"condition": {"test": "datum.value % 25 == 0", "value": 9}, "value": 5}, "tickWidth": 2, "domainWidth": 3, "domainColor": "#808080", "tickColor": "#808080", "labelColor": "#808080", "grid": true, "gridOpacity": {"condition": {"test": "datum.value % 25 == 0 && datum.value > 0", "value": 1}, "value": 0}, "labelFontSize": 21, "labelPadding": 12, "labelFlush": false, "labelOverlap": false, "title": "rH", "titleColor": "#0000ff", "titleFontSize": 23, "titleFontWeight": "normal", "titleX": 76, "titleY": 63, "titleAlign": "left", "titleBaseline": "alphabetic", "titleAnchor": "start"}},
  "y": {"field": "alt", "type": "quantitative", "scale": {"domain": [0, 3250], "nice": false, "zero": false},
   "axis": {"orient": "left", "values": [0,250,500,750,1000,1250,1500,1750,2000,2250,2500,2750,3000], "labels": false, "tickSize": {"condition": {"test": "datum.value % 500 == 0", "value": -12}, "value": -6}, "tickWidth": 2, "domainWidth": 2, "grid": true, "gridOpacity": {"condition": {"test": "datum.value % 500 == 0 && datum.value > 0", "value": 1}, "value": 0}, "title": null}},
  "color": {"field": "var", "type": "nominal", "scale": {"domain": ["rH", "Temp (T)", "pot. temp ( θ)"], "range": ["#0000ff", "#ff0000", "#800000"]},
   "legend": {"title": null, "orient": "none", "legendX": -292, "legendY": -64, "symbolType": "stroke", "symbolSize": 1444, "symbolStrokeWidth": 3, "clipHeight": 17, "labelFontSize": 16, "labelOffset": 2, "rowPadding": 4, "labelLimit": 400}},
  "order": {"field": "i", "type": "quantitative"}
 }},
{"data": {"name": "met"}, "mark": {"type": "point", "opacity": 0},
 "encoding": {
  "x": {"field": "v", "type": "quantitative", "scale": {"domain": [0, 80], "nice": false, "zero": false},
   "axis": {"orient": "top", "values": [0,12.5,25,37.5,50,62.5,75], "labels": false, "tickSize": -7, "tickWidth": 2, "domainWidth": 3, "grid": false, "title": null}},
  "y": {"field": "alt", "type": "quantitative", "scale": {"domain": [0, 3250], "nice": false, "zero": false},
   "axis": {"orient": "right", "values": [0,250,500,750,1000,1250,1500,1750,2000,2250,2500,2750,3000], "format": "d", "labelExpr": "datum.value % 500 == 0 ? datum.label : ''", "tickSize": {"condition": {"test": "datum.value % 500 == 0", "value": 11}, "value": 6}, "tickWidth": 2, "domainWidth": 3, "grid": false, "labelFontSize": 23, "labelPadding": 6, "title": null}}
 }},
{"data": {"name": "met"}, "mark": {"type": "point", "opacity": 0},
 "encoding": {
  "x": {"field": "v", "type": "quantitative", "scale": {"domain": [0, 80], "nice": false, "zero": false},
   "axis": {"orient": "bottom", "domain": false, "ticks": false, "labels": false, "grid": false, "title": "[%]", "titleColor": "black", "titleFontSize": 23, "titleFontWeight": "normal", "titleX": 107, "titleY": 63, "titleAlign": "left", "titleBaseline": "alphabetic", "titleAnchor": "start"}},
  "y": {"field": "alt", "type": "quantitative", "scale": {"domain": [0, 3250], "nice": false, "zero": false}, "axis": null}
 }},
{"data": {"name": "met"}, "mark": {"type": "point", "opacity": 0},
 "encoding": {
  "x": {"field": "v", "type": "quantitative", "scale": {"domain": [0, 80], "nice": false, "zero": false},
   "axis": {"orient": "bottom", "domain": false, "ticks": false, "labels": false, "grid": false, "title": "T,", "titleColor": "#ff0000", "titleFontSize": 23, "titleFontWeight": "normal", "titleX": 68, "titleY": 101, "titleAlign": "left", "titleBaseline": "alphabetic", "titleAnchor": "start"}},
  "y": {"field": "alt", "type": "quantitative", "scale": {"domain": [0, 3250], "nice": false, "zero": false}, "axis": null}
 }},
{"data": {"name": "met"}, "mark": {"type": "point", "opacity": 0},
 "encoding": {
  "x": {"field": "v", "type": "quantitative", "scale": {"domain": [0, 80], "nice": false, "zero": false},
   "axis": {"orient": "bottom", "domain": false, "ticks": false, "labels": false, "grid": false, "title": "θ", "titleColor": "#800000", "titleFontSize": 23, "titleFontWeight": "normal", "titleX": 95, "titleY": 101, "titleAlign": "left", "titleBaseline": "alphabetic", "titleAnchor": "start"}},
  "y": {"field": "alt", "type": "quantitative", "scale": {"domain": [0, 3250], "nice": false, "zero": false}, "axis": null}
 }},
{"data": {"name": "met"}, "mark": {"type": "point", "opacity": 0},
 "encoding": {
  "x": {"field": "v", "type": "quantitative", "scale": {"domain": [0, 80], "nice": false, "zero": false},
   "axis": {"orient": "bottom", "domain": false, "ticks": false, "labels": false, "grid": false, "title": "[°C]", "titleColor": "black", "titleFontSize": 23, "titleFontWeight": "normal", "titleX": 112, "titleY": 101, "titleAlign": "left", "titleBaseline": "alphabetic", "titleAnchor": "start"}},
  "y": {"field": "alt", "type": "quantitative", "scale": {"domain": [0, 3250], "nice": false, "zero": false}, "axis": null}
 }},
{"data": {"name": "refs"}, "transform": [{"filter": "datum.kind == 'inversion'"}], "mark": {"type": "rule", "color": "#ff0a80", "strokeWidth": 4, "strokeDash": [18, 17]},
 "encoding": {"y": {"field": "alt", "type": "quantitative", "scale": {"domain": [0, 3250], "nice": false, "zero": false}, "axis": null}}},
{"data": {"name": "refs"}, "transform": [{"filter": "datum.kind == 'ground'"}], "mark": {"type": "rule", "color": "#800000", "strokeWidth": 4, "strokeDash": [5, 4]},
 "encoding": {"y": {"field": "alt", "type": "quantitative", "scale": {"domain": [0, 3250], "nice": false, "zero": false}, "axis": null}}}
]
}
],
"config": {
 "font": "Liberation Sans",
 "view": {"stroke": null},
 "axis": {"labelFont": "Liberation Sans", "titleFont": "Liberation Sans", "labelColor": "black", "titleColor": "black", "domainColor": "black", "tickColor": "black", "gridColor": "#a0a0a0", "gridWidth": 1.3},
 "legend": {"labelFont": "Liberation Sans", "labelColor": "black", "padding": 0}
}
}
